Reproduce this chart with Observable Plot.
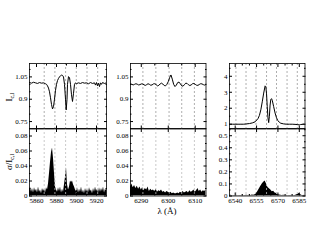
<!DOCTYPE html>
<html><head><meta charset="utf-8">
<script src="https://cdn.jsdelivr.net/npm/d3@7"></script>
<script src="https://cdn.jsdelivr.net/npm/@observablehq/plot@0.6"></script>
<style>
body{margin:0;background:#fff;}
#c{position:relative;width:317px;height:245px;font-family:"Liberation Serif",serif;color:#000;}
#c svg{position:absolute;overflow:visible;}
.lab{position:absolute;font-size:9px;white-space:nowrap;line-height:1;}
.rot{transform:translate(-50%,-50%) rotate(-90deg);}
sub{font-size:6px;vertical-align:-2px;}
</style></head><body><div id="c"></div>
<script>
// ---- Panel 1: He I 5876 / Na D ----
const wl1 = [5853,5855,5857,5859,5861,5863,5865,5867,5869,5870,5871,5872,5873,5874,5875,5876,5877,5878,5879,5880,5881,5882,5883,5884,5885,5886,5887,5888,5889,5889.7,5890.5,5891,5892,5893,5894,5895,5896,5897,5898,5899,5900,5902,5904,5906,5908,5910,5912,5914,5916,5918,5919,5920,5921,5922,5923,5924,5925,5926,5928,5930];
const flux1 = [1.012,1.008,1.014,1.010,1.006,1.012,1.008,1.010,1.004,1.000,0.990,0.975,0.950,0.910,0.865,0.835,0.850,0.900,0.960,1.000,1.025,1.040,1.050,1.058,1.062,1.060,1.050,1.000,0.900,0.828,0.900,1.000,1.052,1.045,1.000,0.930,0.885,0.940,1.000,1.010,1.005,1.010,1.006,1.012,1.008,1.010,1.004,1.012,1.006,1.010,0.995,1.012,0.990,1.008,0.985,1.010,1.000,1.012,1.006,1.010];
const swl1 = [5853,5854,5855,5856,5857,5858,5859,5860,5861,5862,5863,5864,5865,5866,5867,5868,5869,5870,5871,5872,5873,5874,5875,5876,5877,5878,5879,5880,5881,5882,5883,5884,5885,5886,5887,5888,5889,5890,5891,5892,5893,5894,5895,5896,5897,5898,5899,5900,5901,5902,5903,5904,5905,5906,5907,5908,5909,5910,5911,5912,5913,5914,5915,5916,5917,5918,5919,5920,5921,5922,5923,5924,5925,5926,5927,5928,5929,5930];
const sig1 = [0.008,0.012,0.005,0.010,0.004,0.011,0.006,0.009,0.004,0.012,0.005,0.008,0.003,0.010,0.006,0.009,0.004,0.011,0.008,0.016,0.030,0.045,0.058,0.064,0.050,0.030,0.012,0.008,0.005,0.011,0.006,0.012,0.004,0.009,0.005,0.015,0.025,0.038,0.015,0.008,0.012,0.020,0.018,0.020,0.015,0.012,0.008,0.006,0.011,0.004,0.009,0.005,0.012,0.004,0.008,0.003,0.010,0.005,0.009,0.004,0.011,0.006,0.008,0.003,0.010,0.005,0.012,0.006,0.009,0.004,0.011,0.005,0.010,0.006,0.012,0.004,0.009,0.007];
const grid1 = [5867.7,5878.4,5889.1,5899.8,5910.5,5921.2];

// ---- Panel 2: [O I] 6300 ----
const wl2 = [6286,6286.5,6287,6287.5,6288,6288.5,6289,6289.5,6290,6290.5,6291,6291.5,6292,6292.5,6293,6293.5,6294,6294.5,6295,6295.5,6296,6296.5,6297,6297.5,6298,6298.5,6299,6299.5,6300,6300.5,6301,6301.5,6302,6302.5,6303,6303.5,6304,6304.5,6305,6305.5,6306,6306.5,6307,6307.5,6308,6308.5,6309,6309.5,6310,6310.5,6311,6311.5,6312,6312.5,6313,6313.5,6314];
const flux2 = [1.002,1.000,0.996,1.000,1.004,1.001,0.996,0.998,1.003,1.002,0.997,0.993,0.998,1.004,1.000,0.994,0.996,1.003,1.004,0.998,0.990,0.993,1.003,1.008,1.002,0.992,0.990,1.000,1.018,1.045,1.063,1.035,1.000,0.985,0.995,1.012,1.015,1.003,0.990,0.988,0.998,1.008,1.006,0.997,0.992,0.996,1.004,1.006,1.000,0.994,0.993,0.999,1.004,1.003,0.998,0.995,0.998];
const swl2 = wl2;
const sig2 = [0.012,0.016,0.011,0.014,0.010,0.013,0.009,0.012,0.008,0.011,0.007,0.010,0.008,0.012,0.006,0.009,0.007,0.008,0.006,0.009,0.005,0.007,0.006,0.008,0.005,0.006,0.004,0.006,0.005,0.004,0.005,0.003,0.004,0.003,0.003,0.004,0.003,0.005,0.004,0.006,0.004,0.005,0.006,0.004,0.007,0.005,0.006,0.008,0.005,0.007,0.010,0.006,0.008,0.005,0.007,0.006,0.008];
const grid2 = [6290.6,6295.4,6300.3,6305.0,6309.7];

// ---- Panel 3: H alpha ----
const wl3 = [6536,6538,6540,6542,6544,6546,6548,6550,6552,6554,6556,6557,6558,6559,6560,6561,6561.5,6562,6562.5,6563,6563.5,6564,6564.5,6565,6565.5,6566,6567,6568,6569,6570,6571,6572,6574,6576,6578,6580,6582,6584,6585,6586,6588,6589];
const flux3 = [1.0,1.0,1.0,1.0,1.0,1.0,1.02,1.04,1.08,1.15,1.35,1.55,1.9,2.4,2.95,3.4,3.35,2.9,2.1,1.4,1.1,1.5,2.2,2.55,2.6,2.5,2.1,1.7,1.4,1.22,1.12,1.06,1.02,1.0,1.0,1.0,0.99,0.97,0.96,0.98,1.0,1.0];
const swl3 = [6536,6537,6538,6539,6540,6541,6542,6543,6544,6545,6546,6547,6548,6549,6550,6551,6552,6553,6554,6555,6556,6557,6558,6559,6560,6561,6562,6563,6564,6565,6566,6567,6568,6569,6570,6571,6572,6573,6574,6575,6576,6577,6578,6579,6580,6581,6582,6583,6584,6585,6586,6587,6588,6589];
const sig3 = [0.004,0.006,0.003,0.005,0.004,0.007,0.003,0.005,0.004,0.006,0.003,0.005,0.006,0.004,0.007,0.005,0.008,0.006,0.010,0.020,0.040,0.060,0.080,0.100,0.115,0.125,0.100,0.070,0.060,0.050,0.035,0.040,0.025,0.020,0.010,0.008,0.006,0.005,0.007,0.004,0.006,0.003,0.005,0.004,0.006,0.003,0.005,0.008,0.015,0.020,0.010,0.005,0.004,0.006];
const grid3 = [6540.5,6547.6,6554.6,6562.0,6569.0,6576.4,6583.6];

// ---- tick labels ----
const xt1 = [5860,5880,5900,5920], xm1 = [5870,5890,5910];
const xt2 = [6290,6300,6310], xm2 = [6295,6305];
const xt3 = [6540,6555,6570,6585], xm3 = [6545,6550,6560,6565,6575,6580];
const ytTop = [0.75,0.9,1.05], ymTop = [0.8,0.85,0.95,1.0,1.1];
const ytBot1 = [0,0.02,0.04,0.06,0.08], ymBot1 = [0.01,0.03,0.05,0.07];
const ytTop3 = [1,2,3,4], ymTop3 = [1.5,2.5,3.5,4.5];
const ytBot3 = [0,0.1,0.2,0.3,0.4,0.5], ymBot3 = [0.05,0.15,0.25,0.35,0.45,0.55];

const ML=30, MR=10, MT=10, MB=20;
const C = document.getElementById("c");
const fmt = d => String(d);
const none = () => "";

function panel(o) {
  const {x0,x1,y0,y1,xd,yd,xt,xm,yt,ym,grid,data,bottom} = o;
  const marks = [];
  if (bottom) {
    marks.push(Plot.areaY(data, {x:"x", y:"y", fill:"black", curve:"linear"}));
    marks.push(Plot.ruleX(grid, {stroke:"#bbb", strokeDasharray:"2,2", strokeWidth:0.8}));
  } else {
    marks.push(Plot.ruleX(grid, {stroke:"#999", strokeDasharray:"2,2", strokeWidth:0.8}));
    marks.push(Plot.line(data, {x:"x", y:"y", stroke:"black", strokeWidth:1}));
  }
  marks.push(Plot.frame({stroke:"black", strokeWidth:0.8}));
  if (!bottom) marks.push(Plot.ruleY([yd[0]], {stroke:"black", strokeWidth:1.6}));
  // y axes (inward ticks both sides)
  marks.push(Plot.axisY(yt, {anchor:"left", tickSize:-3, tickPadding:5, tickFormat:fmt, label:null}));
  marks.push(Plot.axisY(yt, {anchor:"right", tickSize:-3, tickFormat:none, label:null}));
  marks.push(Plot.axisY(ym, {anchor:"left", tickSize:-1.5, tickFormat:none, label:null}));
  marks.push(Plot.axisY(ym, {anchor:"right", tickSize:-1.5, tickFormat:none, label:null}));
  if (bottom) {
    marks.push(Plot.axisX(xt, {anchor:"bottom", tickSize:-3, tickPadding:5, tickFormat:fmt, label:null}));
    marks.push(Plot.axisX(xm, {anchor:"bottom", tickSize:-1.5, tickFormat:none, label:null}));
    marks.push(Plot.axisX(xt, {anchor:"top", tickSize:-3, tickFormat:none, label:null}));
  } else {
    marks.push(Plot.axisX(xt, {anchor:"top", tickSize:-3, tickFormat:none, label:null}));
    marks.push(Plot.axisX(xm, {anchor:"top", tickSize:-1.5, tickFormat:none, label:null}));
    marks.push(Plot.axisX(xt, {anchor:"bottom", tickSize:-3, tickFormat:none, label:null}));
  }
  const svg = Plot.plot({
    width: (x1-x0)+ML+MR, height: (y1-y0)+MT+MB,
    marginLeft:ML, marginRight:MR, marginTop:MT, marginBottom:MB,
    x:{domain:xd}, y:{domain:yd}, clip:true,
    style:{fontFamily:'"Liberation Serif", serif', fontSize:"7px", background:"transparent", color:"black", overflow:"visible"},
    marks
  });
  svg.style.left = (x0-ML)+"px";
  svg.style.top = (y0-MT)+"px";
  C.appendChild(svg);
}
const zip = (a,b) => a.map((x,i)=>({x, y:b[i]}));

const P = [
  {x0:29, x1:106, xd:[5853,5930], grid:grid1, xt:xt1, xm:xm1, top:{yd:[0.70,1.14], yt:ytTop, ym:ymTop, data:zip(wl1,flux1)}, bot:{yd:[0,0.09], yt:ytBot1, ym:ymBot1, data:zip(swl1,sig1)}},
  {x0:129.5, x1:205, xd:[6286,6314], grid:grid2, xt:xt2, xm:xm2, top:{yd:[0.70,1.14], yt:ytTop, ym:ymTop, data:zip(wl2,flux2)}, bot:{yd:[0,0.09], yt:ytBot1, ym:ymBot1, data:zip(swl2,sig2)}},
  {x0:229, x1:304.5, xd:[6536,6589], grid:grid3, xt:xt3, xm:xm3, top:{yd:[0.7,4.8], yt:ytTop3, ym:ymTop3, data:zip(wl3,flux3)}, bot:{yd:[0,0.56], yt:ytBot3, ym:ymBot3, data:zip(swl3,sig3)}}
];
for (const p of P) {
  panel({x0:p.x0, x1:p.x1, y0:62.5, y1:128, xd:p.xd, grid:p.grid, xt:p.xt, xm:p.xm, ...p.top, bottom:false});
  panel({x0:p.x0, x1:p.x1, y0:128, y1:195.5, xd:p.xd, grid:p.grid, xt:p.xt, xm:p.xm, ...p.bot, bottom:true});
}
// axis titles
function lab(html, x, y, rot) {
  const d = document.createElement("div");
  d.className = "lab" + (rot ? " rot" : "");
  d.innerHTML = html;
  d.style.left = x+"px"; d.style.top = y+"px";
  if (!rot) d.style.transform = "translate(-50%,-50%)";
  C.appendChild(d);
}
lab("I<sub>c,l</sub>", 10, 97, true);
lab("σ/I<sub>c,l</sub>", 10, 162, true);
lab("λ (Å)", 167, 211, false);
</script></body></html>
